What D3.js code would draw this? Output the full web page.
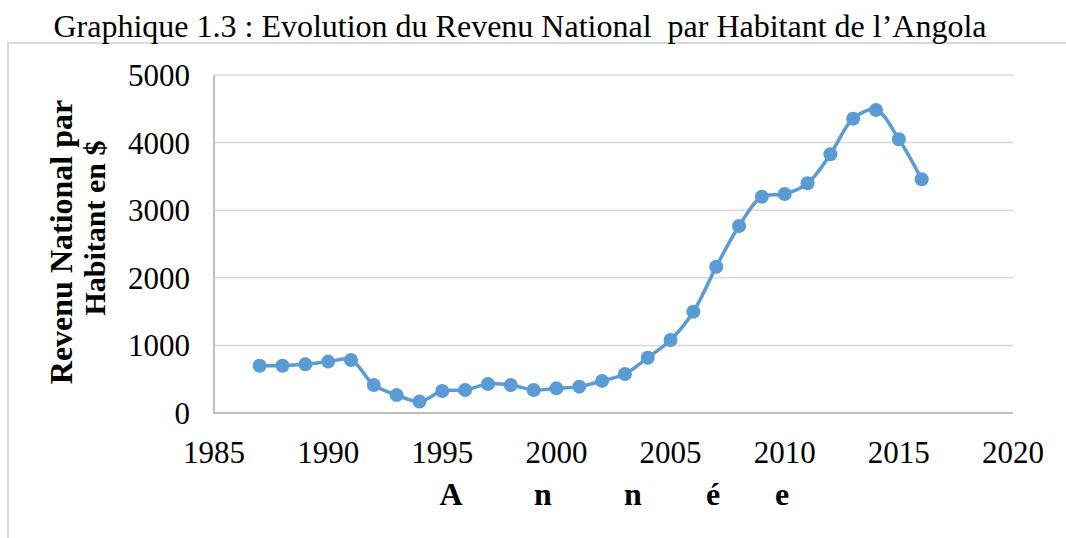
<!DOCTYPE html>
<html>
<head>
<meta charset="utf-8">
<script src="https://cdn.jsdelivr.net/npm/d3@7"></script>
<style>
  html, body { margin: 0; padding: 0; background: #fff; }
  svg { display: block; }
</style>
</head>
<body>
<div id="chart"></div>
<script>
const years = [1987, 1988, 1989, 1990, 1991, 1992, 1993, 1994, 1995, 1996,
  1997, 1998, 1999, 2000, 2001, 2002, 2003, 2004, 2005, 2006,
  2007, 2008, 2009, 2010, 2011, 2012, 2013, 2014, 2015, 2016];
const income = [700, 700, 720, 760, 785, 415, 265, 170, 325, 340,
  430, 415, 340, 365, 390, 475, 577, 818, 1080, 1498,
  2164, 2766, 3200, 3240, 3398, 3827, 4354, 4482, 4049, 3457];
const xTicks = [1985, 1990, 1995, 2000, 2005, 2010, 2015, 2020];
const yTicks = [0, 1000, 2000, 3000, 4000, 5000];
const xLetters = ['A', 'n', 'n', 'é', 'e'];

const W = 1066, H = 538;
const serif = "'Liberation Serif', 'Times New Roman', serif";

const svg = d3.select('#chart').append('svg')
  .attr('width', W).attr('height', H);

// chart frame (only top and left edges visible in the crop)
svg.append('path')
  .attr('d', `M8,${H} V43 H${W}`)
  .attr('fill', 'none')
  .attr('stroke', '#d9d9d9')
  .attr('stroke-width', 2);

// title
svg.append('text')
  .attr('x', 520).attr('y', 37)
  .attr('text-anchor', 'middle')
  .attr('font-family', serif)
  .attr('font-size', 32)
  .attr('fill', '#000')
  .text('Graphique 1.3 : Evolution du Revenu National\u00a0 par Habitant de l\u2019Angola');

const x = d3.scaleLinear().domain([1985, 2020]).range([214, 1013]);
const y = d3.scaleLinear().domain([0, 5000]).range([413, 75]);

// gridlines
svg.append('g')
  .selectAll('line')
  .data(yTicks.slice(1))
  .join('line')
  .attr('x1', 214).attr('x2', 1013)
  .attr('y1', d => y(d)).attr('y2', d => y(d))
  .attr('stroke', '#d9d9d9')
  .attr('stroke-width', 1.5);

// axes lines
svg.append('line')
  .attr('x1', 214).attr('x2', 1013)
  .attr('y1', y(0)).attr('y2', y(0))
  .attr('stroke', '#bfbfbf').attr('stroke-width', 2);
svg.append('line')
  .attr('x1', 214).attr('x2', 214)
  .attr('y1', y(0) + 1).attr('y2', y(5000))
  .attr('stroke', '#bfbfbf').attr('stroke-width', 2);

// y tick labels
svg.append('g')
  .selectAll('text')
  .data(yTicks)
  .join('text')
  .attr('x', 190)
  .attr('y', d => y(d) + 11)
  .attr('text-anchor', 'end')
  .attr('font-family', serif)
  .attr('font-size', 31)
  .text(d => d);

// x tick labels
svg.append('g')
  .selectAll('text')
  .data(xTicks)
  .join('text')
  .attr('x', d => x(d))
  .attr('y', 463)
  .attr('text-anchor', 'middle')
  .attr('font-family', serif)
  .attr('font-size', 31)
  .text(d => d);

// axis titles
const yTitle = svg.append('text')
  .attr('transform', 'rotate(-90)')
  .attr('text-anchor', 'middle')
  .attr('font-family', serif)
  .attr('font-weight', 'bold');
yTitle.append('tspan').attr('x', -242).attr('y', 72)
  .attr('font-size', 32).text('Revenu National par');
yTitle.append('tspan').attr('x', -228).attr('y', 105)
  .attr('font-size', 30).text('Habitant en $');

const xLetterPos = [451, 543, 633, 713, 782];
svg.append('g')
  .selectAll('text')
  .data(xLetters)
  .join('text')
  .attr('x', (d, i) => xLetterPos[i])
  .attr('y', 505)
  .attr('text-anchor', 'middle')
  .attr('font-family', serif)
  .attr('font-size', 32)
  .attr('font-weight', 'bold')
  .text(d => d);

// series
const data = years.map((yr, i) => ({ yr, v: income[i] }));
const line = d3.line()
  .x(d => x(d.yr))
  .y(d => y(d.v))
  .curve(d3.curveCatmullRom.alpha(0.5));

svg.append('path')
  .attr('d', line(data))
  .attr('fill', 'none')
  .attr('stroke', '#5b9bd5')
  .attr('stroke-width', 3.5)
  .attr('stroke-linejoin', 'round');

svg.append('g')
  .selectAll('circle')
  .data(data)
  .join('circle')
  .attr('cx', d => x(d.yr))
  .attr('cy', d => y(d.v))
  .attr('r', 7)
  .attr('fill', '#5b9bd5');
</script>
</body>
</html>
